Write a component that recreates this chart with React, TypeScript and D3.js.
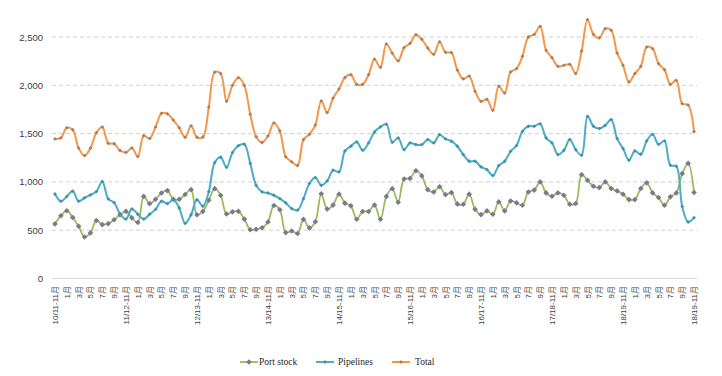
import React from 'react';
import * as d3 from 'd3';

const seriesNames = ['Port stock', 'Pipelines', 'Total'];

const portStock = [
  565, 650, 702, 632, 541, 430, 472, 600, 558, 568,
  608, 660, 695, 628, 580, 850, 775, 820, 885, 910,
  820, 820, 870, 920, 660, 695, 810, 930, 860, 668,
  690, 695, 615, 505, 510, 525, 585, 755, 712, 475,
  492, 466, 612, 524, 587, 877, 720, 760, 873, 780,
  752, 613, 694, 694, 760, 613, 850, 930, 790, 1030,
  1036, 1116, 1062, 920, 895, 950, 868, 889, 772, 768,
  873, 716, 661, 700, 665, 793, 700, 803, 783, 759,
  896, 915, 1000, 886, 852, 886, 862, 769, 776, 1075,
  1017, 955, 941, 1000, 931, 907, 872, 817, 817, 931,
  990, 886, 838, 759, 845, 886, 1086, 1192, 890,
];

const pipelines = [
  875, 800, 850, 905, 800, 835, 865, 900, 1005, 825,
  785, 670, 615, 720, 665, 615, 665, 715, 800, 775,
  815, 730, 570, 660, 815, 748, 900, 1200, 1255, 1150,
  1305, 1375, 1390, 1192, 965, 896, 886, 862, 827, 783,
  724, 707, 827, 983, 1045, 965, 1010, 1121, 1103, 1320,
  1369, 1414, 1327, 1403, 1517, 1569, 1598, 1410, 1455, 1334,
  1403, 1386, 1386, 1438, 1403, 1489, 1445, 1421, 1369, 1283,
  1214, 1214, 1155, 1128, 1065, 1169, 1214, 1317, 1376, 1524,
  1576, 1576, 1600, 1455, 1403, 1283, 1327, 1438, 1334, 1276,
  1679, 1576, 1552, 1586, 1645, 1448, 1345, 1224, 1320, 1286,
  1424, 1493, 1389, 1424, 1172, 1162, 745, 585, 630,
];

const total = [
  1445, 1455, 1560, 1540, 1350, 1272, 1350, 1510, 1568, 1400,
  1395, 1325, 1305, 1352, 1262, 1478, 1450, 1568, 1710, 1705,
  1640, 1560, 1462, 1580, 1462, 1465, 1775, 2135, 2121, 1834,
  2000, 2079, 2000, 1700, 1467, 1408, 1476, 1610, 1527, 1260,
  1208, 1170, 1438, 1493, 1588, 1838, 1717, 1868, 1962, 2080,
  2110, 2010, 2010, 2110, 2270, 2186, 2428, 2333, 2252, 2390,
  2433, 2524, 2476, 2385, 2320, 2450, 2342, 2338, 2157, 2066,
  2096, 1938, 1834, 1855, 1741, 1990, 1920, 2138, 2172, 2300,
  2500, 2527, 2610, 2362, 2286, 2196, 2207, 2217, 2121, 2355,
  2679, 2527, 2490, 2586, 2569, 2334, 2207, 2034, 2121, 2196,
  2396, 2379, 2224, 2162, 2010, 2052, 1810, 1795, 1520,
];

// one label every two months
const tickLabels = [
  '10/11-11月', '1月', '3月', '5月', '7月', '9月',
  '11/12-11月', '1月', '3月', '5月', '7月', '9月',
  '12/13-11月', '1月', '3月', '5月', '7月', '9月',
  '13/14-11月', '1月', '3月', '5月', '7月', '9月',
  '14/15-11月', '1月', '3月', '5月', '7月', '9月',
  '15/16-11月', '1月', '3月', '5月', '7月', '9月',
  '16/17-11月', '1月', '3月', '5月', '7月', '9月',
  '17/18-11月', '1月', '3月', '5月', '7月', '9月',
  '18/19-11月', '1月', '3月', '5月', '7月', '9月',
  '18/19-11月',
];

const yTicks = [0, 500, 1000, 1500, 2000, 2500];

const W = 722;
const H = 376;

const diamond = (r: number) => `M0,${-r}L${r},0L0,${r}L${-r},0Z`;

export default function App() {
  const idx = d3.range(total.length);
  const x = d3.scalePoint<number>().domain(idx).range([52, 697]).padding(0.5);
  const y = d3.scaleLinear().domain([0, 2500]).range([278.5, 37]);
  const line = d3
    .line<number>()
    .x((_, i) => x(i) as number)
    .y((d) => y(d))
    .curve(d3.curveCatmullRom.alpha(0.5));

  const series = [
    { name: seriesNames[0], data: portStock, stroke: '#9BBB59', width: 1.8, marker: '#7A7893', r: 2.8 },
    { name: seriesNames[1], data: pipelines, stroke: '#4BACC6', width: 2, marker: '#3C93AA', r: 1.9 },
    { name: seriesNames[2], data: total, stroke: '#F79646', width: 2, marker: '#A87E62', r: 1.9 },
  ];

  const legendItems = [
    { lx: 240, tx: 259 },
    { lx: 316, tx: 338 },
    { lx: 392, tx: 415 },
  ];

  return (
    <svg
      width={W}
      height={H}
      style={{ position: 'absolute', left: 0, top: 0, background: '#fff' }}
      xmlns="http://www.w3.org/2000/svg"
    >
      <rect x={0} y={0} width={W} height={H} fill="#fff" />
      {yTicks.map((t) => (
        <g key={t}>
          {t > 0 ? (
            <line
              x1={52}
              x2={697}
              y1={y(t)}
              y2={y(t)}
              stroke="#D0D0D0"
              strokeWidth={1}
              strokeDasharray="4,3"
            />
          ) : (
            <line x1={52} x2={697} y1={y(t)} y2={y(t)} stroke="#D9D9D9" strokeWidth={1} />
          )}
          <text
            x={43}
            y={y(t)}
            textAnchor="end"
            dominantBaseline="central"
            fontFamily="'Liberation Sans', Arial, sans-serif"
            fontSize={9.5}
            fill="#404040"
          >
            {d3.format(',')(t)}
          </text>
        </g>
      ))}

      {tickLabels.map((lab, j) => {
        const px = (x(j * 2) as number) + 0.5;
        return (
          <text
            key={j}
            transform={`translate(${px},286) rotate(-90)`}
            textAnchor="end"
            dominantBaseline="central"
            fontFamily="'Liberation Sans', 'Noto Sans CJK SC', sans-serif"
            fontSize={8}
            fill="#404040"
          >
            {lab}
          </text>
        );
      })}

      {series.map((s) => (
        <g key={s.name}>
          <path d={line(s.data) || ''} fill="none" stroke={s.stroke} strokeWidth={s.width} strokeLinejoin="round" />
          {s.data.map((v, i) => (
            <path
              key={i}
              d={diamond(s.r)}
              transform={`translate(${x(i)},${y(v)})`}
              fill={s.marker}
              stroke="none"
            />
          ))}
        </g>
      ))}

      {series.map((s, k) => (
        <g key={'lg' + s.name}>
          <line
            x1={legendItems[k].lx}
            x2={legendItems[k].lx + 18}
            y1={362}
            y2={362}
            stroke={s.stroke}
            strokeWidth={s.width}
          />
          <path d={diamond(s.r)} transform={`translate(${legendItems[k].lx + 9},362)`} fill={s.marker} />
          <text
            x={legendItems[k].tx}
            y={362}
            dominantBaseline="central"
            fontFamily="'Liberation Serif', 'Times New Roman', serif"
            fontSize={9.5}
            fill="#262626"
          >
            {s.name}
          </text>
        </g>
      ))}
    </svg>
  );
}
